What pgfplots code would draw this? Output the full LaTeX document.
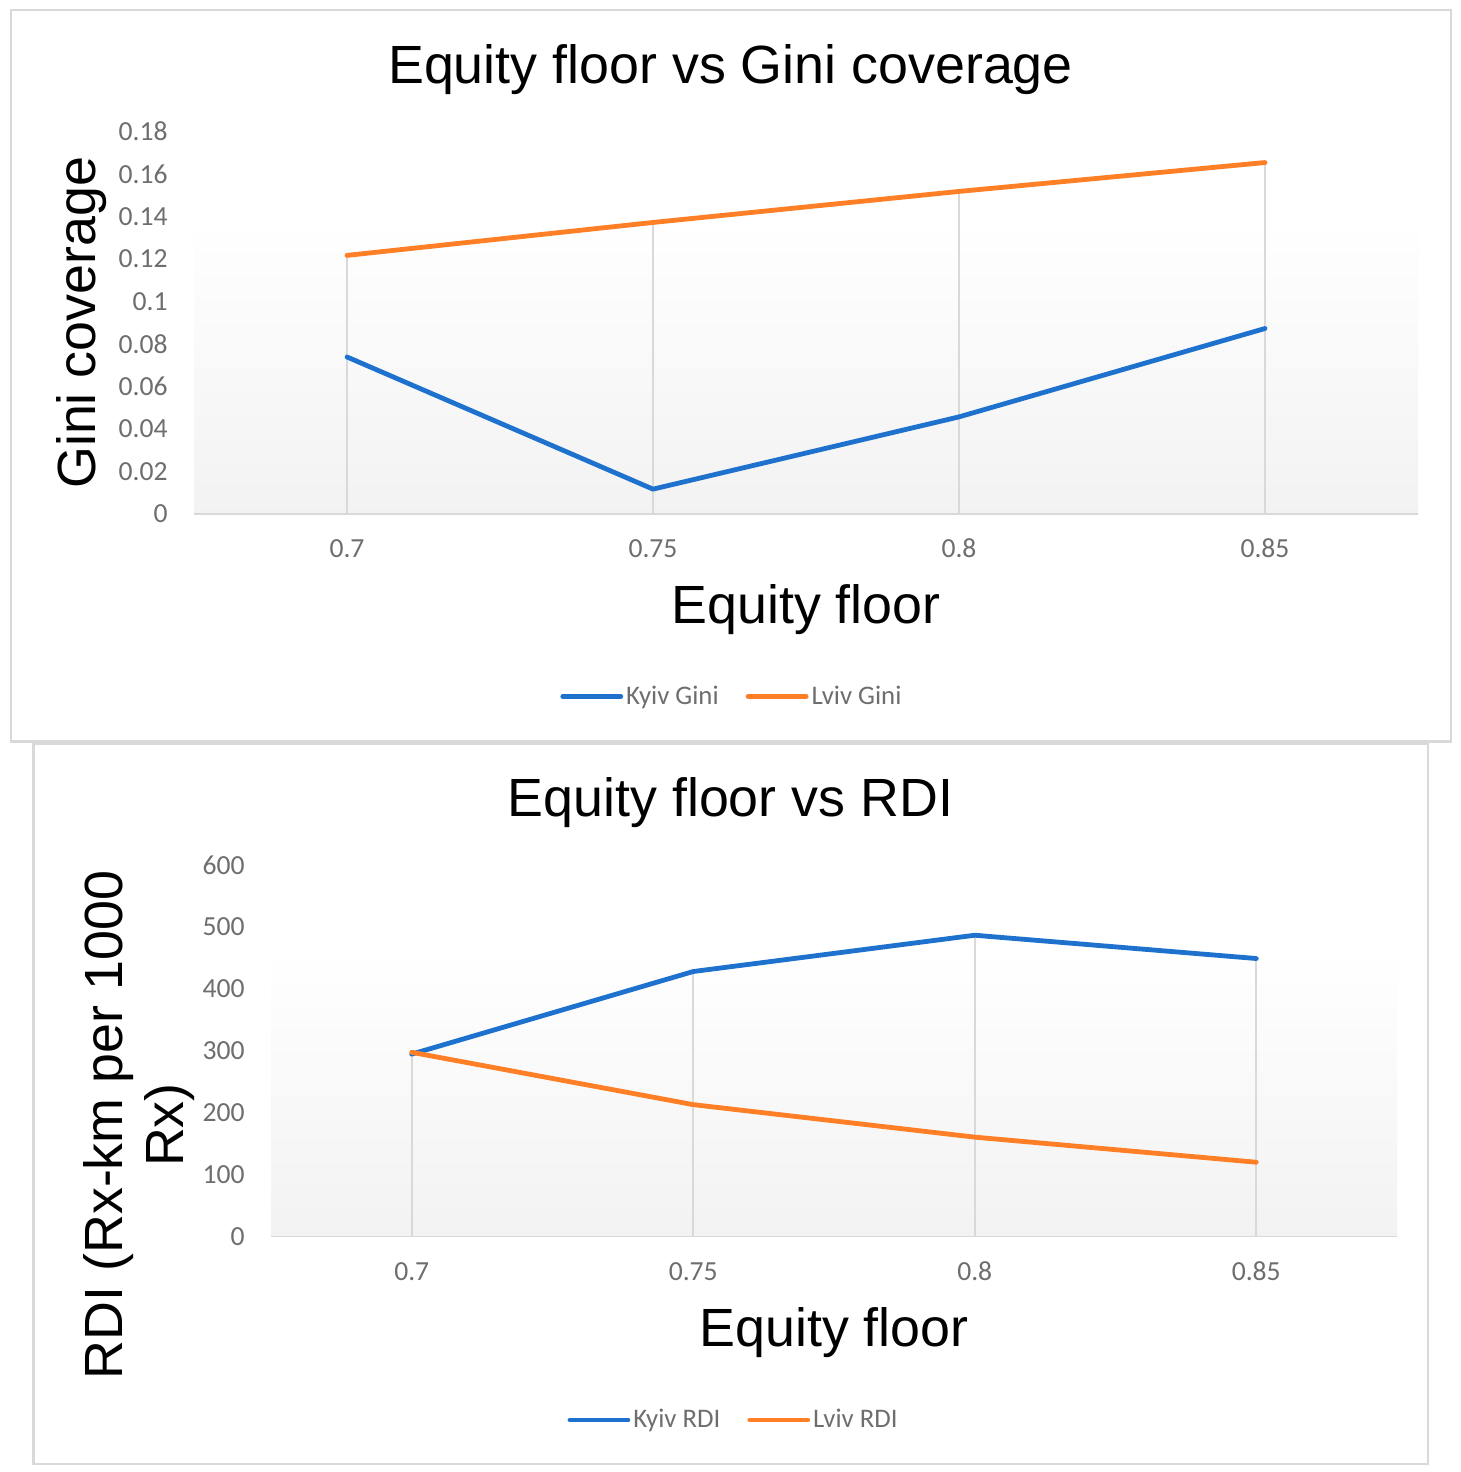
\documentclass[border=0pt]{standalone}
\usepackage{pgfplots}
\usepackage{pgfplotstable}
\pgfplotsset{compat=1.18}
\usepackage{fontspec}
\setmainfont{Liberation Sans}
\newfontfamily\carlito{Carlito}
\definecolor{kblue}{RGB}{30,114,206}
\definecolor{lorange}{RGB}{255,127,39}
\definecolor{gridgray}{RGB}{217,217,217}
\definecolor{tickgray}{RGB}{110,110,110}
\definecolor{framegray}{RGB}{217,217,217}
\newcommand\biglabel{\fontsize{26.9}{32}\selectfont}
\newcommand\tickfont{\carlito\fontsize{13.8}{16}\selectfont}
\newcommand\legfont{\carlito\fontsize{13.4}{15}\selectfont}

\pgfplotstableread{
x kyiv lviv top
0.70 0.0739 0.1217 0.1217
0.75 0.0117 0.1372 0.1372
0.80 0.0457 0.1518 0.1518
0.85 0.0873 0.1654 0.1654
}\ginitable

\pgfplotstableread{
x kyiv lviv top
0.70 294.6 297.5 297.5
0.75 428.0 213.0 428.0
0.80 486.6 160.5 486.6
0.85 449.0 120.0 449.0
}\rditable

\pgfplotsset{
  excel/.style={
    scale only axis,
    xmin=0.675, xmax=0.875,
    ymin=0,
    enlargelimits=false,
    axis x line*=bottom,
    axis y line*=left,
    axis line style={draw=none},
    major tick length=0pt,
    tick style={draw=none},
    xtick={0.7,0.75,0.8,0.85},
    xticklabels={0.7,0.75,0.8,0.85},
    scaled x ticks=false,
    scaled y ticks=false,
    xticklabel style={font=\tickfont, text=tickgray, anchor=base, inner sep=0pt, yshift=-21.9pt},
    yticklabel style={font=\tickfont, text=tickgray, anchor=east, inner sep=0pt, xshift=-13pt},
    xlabel style={font=\biglabel, anchor=base, inner sep=0pt},
    ylabel style={font=\biglabel, anchor=base, inner sep=0pt},
    legend columns=2,
    legend image code/.code={\draw[##1, line cap=round] (0pt,0pt) -- (29pt,0pt);},
    legend style={draw=none, fill=none, inner sep=0pt, anchor=west,
      nodes={inner ysep=1pt, inner xsep=1.5pt, text=tickgray, font=\legfont},
      /tikz/every even column/.append style={column sep=12pt}},
    series/.style={line width=2.4pt, line cap=round, line join=round},
  }
}

\begin{document}
\begin{tikzpicture}
\fill[white] (0pt,0pt) rectangle (730.5pt,-736pt);
\draw[framegray, line width=1.25pt] (5.5pt,-5pt) rectangle (725.5pt,-370.75pt);
\draw[framegray, line width=1.25pt] (16.75pt,-371.75pt) rectangle (714pt,-732pt);

\node[anchor=base, inner sep=0pt, font=\biglabel] at (365.25pt,-41.5pt) {Equity floor vs Gini coverage};
\node[anchor=base, inner sep=0pt, font=\biglabel] at (365.25pt,-408pt) {Equity floor vs RDI};

% Top chart
\begin{axis}[excel,
  at={(97pt,-257pt)}, anchor=south west,
  width=612pt, height=191.25pt,
  ymax=0.18,
  ytick={0,0.02,0.04,0.06,0.08,0.1,0.12,0.14,0.16,0.18},
  yticklabels={0,0.02,0.04,0.06,0.08,0.1,0.12,0.14,0.16,0.18},
  xlabel={Equity floor},
  ylabel={Gini coverage},
  xlabel style={at={(axis description cs:0.5,-0.285)}},
  ylabel style={at={(axis description cs:-0.0805,0.5)}},
  legend style={at={(axis description cs:0.2990,-0.477)}},
]
\fill[top color=white, bottom color=gray!10, draw=none] (rel axis cs:0,0) rectangle (rel axis cs:1,0.775);
\addplot[ycomb, draw=gridgray, line width=1pt, forget plot] table[x=x, y=top] {\ginitable};
\draw[gridgray, line width=1pt] (rel axis cs:0,0) -- (rel axis cs:1,0);
\addplot[series, kblue] table[x=x, y=kyiv] {\ginitable};
\addplot[series, lorange] table[x=x, y=lviv] {\ginitable};
\legend{Kyiv Gini, Lviv Gini}
\end{axis}

% Bottom chart
\begin{axis}[excel,
  at={(135.5pt,-618.25pt)}, anchor=south west,
  width=563pt, height=185.75pt,
  ymax=600,
  ytick={0,100,200,300,400,500,600},
  yticklabels={0,100,200,300,400,500,600},
  xlabel={Equity floor},
  xlabel style={at={(axis description cs:0.5,-0.2974)}},
  legend style={at={(axis description cs:0.2630,-0.494)}},
]
\fill[top color=white, bottom color=gray!10, draw=none] (rel axis cs:0,0) rectangle (rel axis cs:1,0.771);
\addplot[ycomb, draw=gridgray, line width=1pt, forget plot] table[x=x, y=top] {\rditable};
\draw[gridgray, line width=1pt] (rel axis cs:0,0) -- (rel axis cs:1,0);
\addplot[series, kblue] table[x=x, y=kyiv] {\rditable};
\addplot[series, lorange] table[x=x, y=lviv] {\rditable};
\legend{Kyiv RDI, Lviv RDI}
\end{axis}

\node[rotate=90, anchor=base, inner sep=0pt, font=\biglabel] at (61pt,-562.5pt) {RDI (Rx-km per 1000};
\node[rotate=90, anchor=base, inner sep=0pt, font=\biglabel] at (91.5pt,-562.5pt) {Rx)};
\end{tikzpicture}
\end{document}
